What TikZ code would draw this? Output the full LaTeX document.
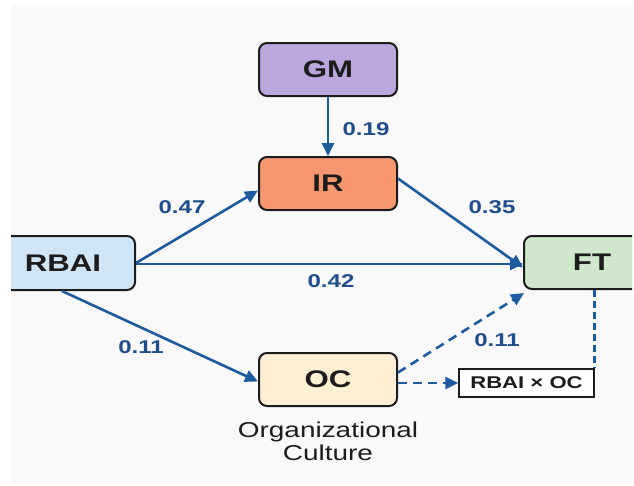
\documentclass[tikz,border=0pt]{standalone}
\usepackage{fontspec}
\setmainfont{Liberation Sans}[FakeStretch=1.3]
\usetikzlibrary{arrows.meta}

\definecolor{pagebg}{HTML}{F9F9F9}
\definecolor{boxline}{HTML}{1C1C1C}
\definecolor{linkblue}{HTML}{1D5A9E}
\definecolor{numblue}{HTML}{1F4D8C}
\definecolor{gmfill}{HTML}{BBA7DE}
\definecolor{irfill}{HTML}{F7976F}
\definecolor{rbaifill}{HTML}{D0E5F5}
\definecolor{ftfill}{HTML}{CFE8CB}
\definecolor{ocfill}{HTML}{FDEFD3}

\tikzset{
  varbox/.style={draw=boxline, line width=2pt, rounded corners=8pt,
    minimum height=53pt, inner sep=0pt, text=boxline,
    font=\fontsize{24}{28}\selectfont\bfseries},
  intbox/.style={draw=boxline, line width=1.5pt, minimum width=135pt,
    minimum height=28pt, inner sep=0pt, fill=white, text=boxline,
    font=\fontsize{17}{20}\selectfont\bfseries},
  path/.style={draw=linkblue, line width=2.6pt,
    -{Triangle[length=13pt,width=12pt]}},
  dpath/.style={path, dash pattern=on 9pt off 6pt},
  dline/.style={draw=linkblue, line width=2.8pt, dash pattern=on 7pt off 4pt},
  coef/.style={text=numblue, inner sep=0pt,
    font=\fontsize{18.5}{21}\selectfont\bfseries},
  caption/.style={text=boxline, inner sep=0pt, align=center,
    font=\fontsize{21.5}{23}\selectfont}
}

\begin{document}
\begin{tikzpicture}[x=1pt, y=-1pt]
  % canvas and panel
  \fill[white] (0,0) rectangle (634,485);
  \useasboundingbox (0,0) rectangle (634,485);
  \fill[pagebg] (11,5) rectangle (632,483);

  % construct boxes
  \node[varbox, fill=gmfill, minimum width=138pt] (gm) at (328,69.5) {GM};
  \node[varbox, fill=irfill, minimum width=138pt] (ir) at (328,183.5) {IR};
  \node[varbox, fill=ocfill, minimum width=138pt] (oc) at (328,379.5) {OC};
  \begin{scope}
    \clip (11,5) rectangle (632,483);
    \node[varbox, fill=rbaifill, minimum width=144pt, minimum height=54pt] (rbai) at (63,263) {RBAI};
    \node[varbox, fill=ftfill, minimum width=136pt] (ft) at (592,262.5) {FT};
  \end{scope}
  \node[intbox] (int) at (526.5,383) {RBAI × OC};

  % caption under the moderator
  \node[caption] (occap) at (328,441) {Organizational\\Culture};

  % structural paths
  \draw[path] (gm.south) -- (ir.north);
  \draw[path] (rbai.east) -- ([yshift=-7pt]ir.west);
  \draw[path] ([yshift=5pt]ir.east) -- ([yshift=-5pt]ft.west);
  \draw[path] ([yshift=-1pt]rbai.east) -- ([yshift=-1.5pt]ft.west);
  \draw[path] ([xshift=-1pt]rbai.south) -- ([yshift=-2pt]oc.west);
  \draw[dpath] ([yshift=7pt]oc.east) -- ([xshift=1pt,yshift=-3pt]ft.south west);
  \draw[dpath] ([yshift=-3.5pt]oc.east) -- (int.west);
  \draw[dline] (ft.south -| int.north east) -- (int.north east);

  % path coefficients
  \node[coef] (c19) at (366,129) {0.19};
  \node[coef] (c47) at (182,207) {0.47};
  \node[coef] (c35) at (492,207) {0.35};
  \node[coef] (c42) at (331,281) {0.42};
  \node[coef] (c11a) at (141,347) {0.11};
  \node[coef] (c11b) at (497,340) {0.11};
\end{tikzpicture}
\end{document}
